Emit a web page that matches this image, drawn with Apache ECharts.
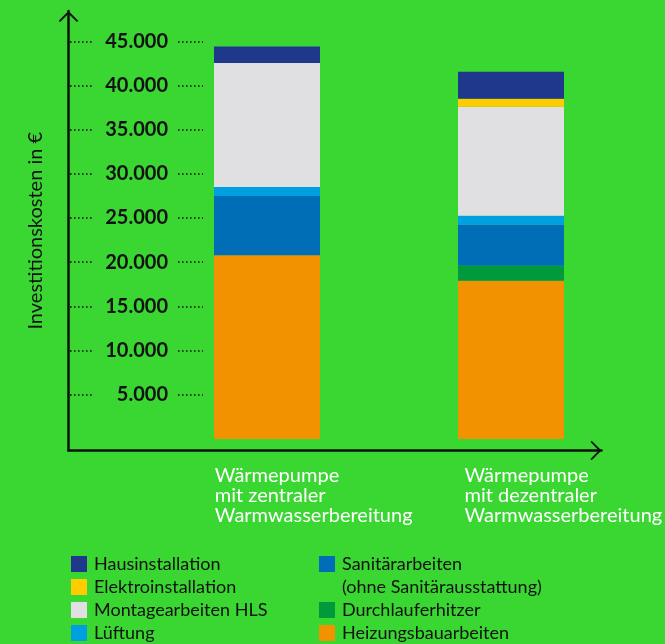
<!DOCTYPE html>
<html>
<head>
<meta charset="utf-8">
<script src="https://cdn.jsdelivr.net/npm/echarts@6/dist/echarts.min.js"></script>
<style>
html,body{margin:0;padding:0;background:#3ad632;}
#c{width:665px;height:644px;}
</style>
</head>
<body>
<div id="c"></div>
<script>
// ---- data ----
var categories = ['Wärmepumpe\nmit zentraler\nWarmwasserbereitung', 'Wärmepumpe\nmit dezentraler\nWarmwasserbereitung'];
var heizung = [20800, 17900];
var durchlauf = [0, 1700];
var sanitaer = [6700, 4650];
var lueftung = [1000, 1000];
var montage = [14050, 12350];
var elektro = [0, 900];
var haus = [1850, 3050];
var tickMin = 5000, tickMax = 45000, tickStep = 5000;

var names = {
  haus: 'Hausinstallation',
  elektro: 'Elektroinstallation',
  montage: 'Montagearbeiten HLS',
  lueftung: 'Lüftung',
  sanitaer: 'Sanitärarbeiten',
  durchlauf: 'Durchlauferhitzer',
  heizung: 'Heizungsbauarbeiten'
};
var colors = {
  haus: '#1f388c',
  elektro: '#ffcc00',
  montage: '#e0e0e2',
  lueftung: '#009fdf',
  sanitaer: '#006eb7',
  durchlauf: '#009a3d',
  heizung: '#f39200'
};

var FONT = 'Lato';
var BG = '#3ad632';
var INK = '#111111';
var chevron = 'path://M0,10 L10,0 L20,10 L18.6,11.2 L10,2.8 L1.4,11.2 Z';

function fmt(v) { return String(v).replace(/\B(?=(\d{3})+(?!\d))/g, '.'); }

function bar(key, data) {
  return {
    name: names[key], type: 'bar', stack: 'total', xAxisIndex: 1, yAxisIndex: 1,
    barWidth: 106, data: data, itemStyle: { color: colors[key] },
    emphasis: { disabled: true }, animation: false
  };
}

var chart = echarts.init(document.getElementById('c'), null, { renderer: 'canvas' });
chart.setOption({
  backgroundColor: BG,
  animation: false,
  textStyle: { fontFamily: FONT },
  grid: [
    // 0: tick labels with dotted leaders
    { left: 70, right: 462, top: 41.3, bottom: 249.3 },
    // 1: bars
    { left: 145, right: 32, top: 41.3, bottom: 205 },
    // 2: category labels
    { left: 90, width: 500, top: 41.3, bottom: 205 },
    // 3: axis lines with arrows
    { left: 68.5, right: 63.5, top: 11, bottom: 193.5 }
  ],
  xAxis: [
    { gridIndex: 0, type: 'value', show: false },
    { gridIndex: 1, type: 'category', data: categories, axisLine: { show: false }, axisTick: { show: false }, axisLabel: { show: false } },
    { gridIndex: 2, type: 'category', data: categories, axisLine: { show: false }, axisTick: { show: false },
      axisLabel: { align: 'left', margin: 27, color: '#ffffff', fontSize: 20, lineHeight: 20, fontFamily: FONT, interval: 0 } },
    { gridIndex: 3, type: 'value', min: 0, max: 1, splitLine: { show: false }, axisTick: { show: false }, axisLabel: { show: false },
      axisLine: { show: true, lineStyle: { color: INK, width: 2.5 }, symbol: ['none', chevron], symbolSize: [20, 11], symbolOffset: [0, -5.5] } }
  ],
  yAxis: [
    { gridIndex: 0, type: 'value', min: tickMin, max: tickMax, interval: tickStep,
      axisLine: { show: false }, axisTick: { show: false },
      splitLine: { show: true, lineStyle: { color: INK, width: 1.6, type: [1.6, 2.4] } },
      axisLabel: { inside: true, margin: 107, align: 'right', formatter: fmt, color: INK, fontSize: 20, fontWeight: 'bold',
        fontFamily: FONT, backgroundColor: BG, width: 75, padding: [2, 9, 2, 0] } },
    { gridIndex: 1, type: 'value', min: 0, max: tickMax, show: false, splitLine: { show: false } },
    { gridIndex: 2, type: 'value', min: 0, max: tickMax, show: false, splitLine: { show: false } },
    { gridIndex: 3, type: 'value', min: 0, max: 1, splitLine: { show: false }, axisTick: { show: false }, axisLabel: { show: false },
      name: 'Investitionskosten in €', nameLocation: 'middle', nameGap: 23, nameRotate: 90,
      nameTextStyle: { color: INK, fontSize: 20, fontFamily: FONT },
      axisLine: { show: true, lineStyle: { color: INK, width: 2.5 }, symbol: ['none', chevron], symbolSize: [20, 11], symbolOffset: [0, -5.5] } }
  ],
  legend: [
    { orient: 'vertical', left: 71, top: 552.5, height: 120, padding: 0, itemWidth: 16, itemHeight: 16, itemGap: 0, icon: 'rect', selectedMode: false,
      textStyle: { color: INK, fontSize: 18, lineHeight: 23, fontFamily: FONT, padding: [0, 0, 0, 2] },
      data: [names.haus, names.elektro, names.montage, names.lueftung] },
    { orient: 'vertical', left: 319, top: 529.5, height: 150, padding: 0, itemWidth: 16, itemHeight: 16, itemGap: 0, icon: 'rect', selectedMode: false,
      textStyle: { color: INK, fontSize: 18, lineHeight: 23, fontFamily: FONT, padding: [0, 0, 0, 2] },
      formatter: function (n) { return n === names.sanitaer ? '\nSanitärarbeiten\n(ohne Sanitärausstattung)' : n; },
      data: [names.sanitaer, names.durchlauf, names.heizung] }
  ],
  series: [
    bar('heizung', heizung),
    bar('durchlauf', durchlauf),
    bar('sanitaer', sanitaer),
    bar('lueftung', lueftung),
    bar('montage', montage),
    bar('elektro', elektro),
    bar('haus', haus)
  ]
});
</script>
</body>
</html>
